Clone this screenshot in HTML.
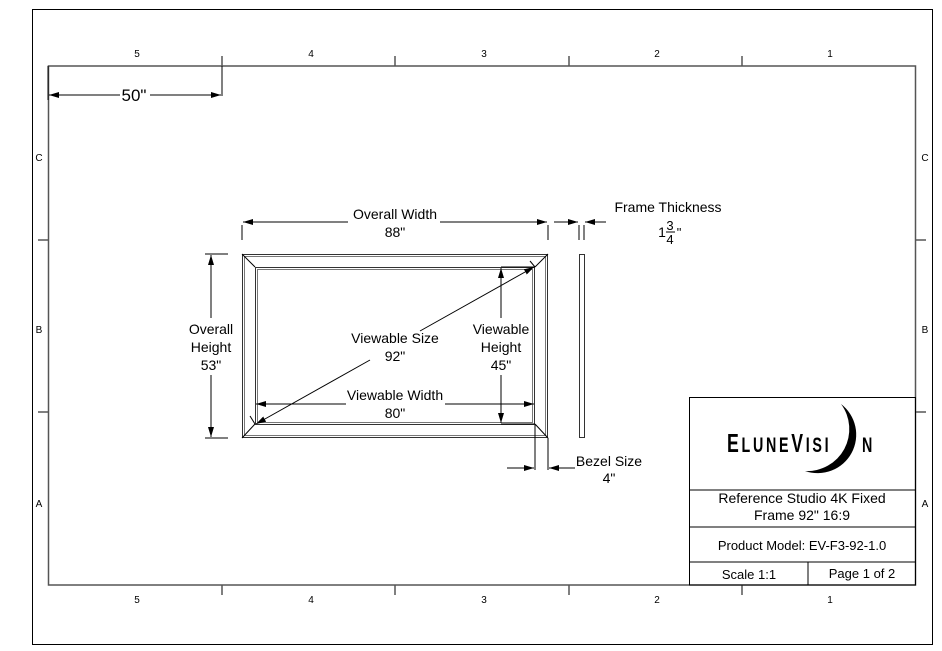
<!DOCTYPE html>
<html><head><style>
html,body{margin:0;padding:0;background:#fff;}
svg{display:block;font-family:"Liberation Sans",Arial,sans-serif;}
</style></head><body>
<svg width="942" height="651" viewBox="0 0 942 651" xmlns="http://www.w3.org/2000/svg">
<defs>
<marker id="a" viewBox="0 0 10 6" refX="10" refY="3" markerWidth="10" markerHeight="6" markerUnits="userSpaceOnUse" orient="auto"><path d="M0,0 L10,3 L0,6 Z" fill="#000"/></marker>
</defs>
<rect x="32.5" y="9.5" width="900" height="635" fill="none" stroke="#000" stroke-width="1"/>
<rect x="48.5" y="66" width="867" height="519" fill="none" stroke="#555" stroke-width="1.5"/>
<g stroke="#555" stroke-width="1.5">
<line x1="222" y1="56" x2="222" y2="66"/><line x1="395" y1="56" x2="395" y2="66"/><line x1="569" y1="56" x2="569" y2="66"/><line x1="742" y1="56" x2="742" y2="66"/>
<line x1="222" y1="585" x2="222" y2="595"/><line x1="395" y1="585" x2="395" y2="595"/><line x1="569" y1="585" x2="569" y2="595"/><line x1="742" y1="585" x2="742" y2="595"/>
<line x1="38" y1="240" x2="48" y2="240"/><line x1="38" y1="412" x2="48" y2="412"/>
<line x1="916" y1="240" x2="926" y2="240"/><line x1="916" y1="412" x2="926" y2="412"/>
</g>
<g font-size="10" text-anchor="middle" fill="#000">
<text x="137" y="57">5</text><text x="311" y="57">4</text><text x="484" y="57">3</text><text x="657" y="57">2</text><text x="830" y="57">1</text>
<text x="137" y="603">5</text><text x="311" y="603">4</text><text x="484" y="603">3</text><text x="657" y="603">2</text><text x="830" y="603">1</text>
<text x="39" y="161">C</text><text x="39" y="333">B</text><text x="39" y="507">A</text>
<text x="925" y="161">C</text><text x="925" y="333">B</text><text x="925" y="507">A</text>
</g>
<g stroke="#000" stroke-width="1" fill="none">
<line x1="48" y1="66" x2="48" y2="100"/><line x1="222" y1="66" x2="222" y2="96"/>
<line x1="120" y1="95" x2="49" y2="95" marker-end="url(#a)"/><line x1="150" y1="95" x2="221" y2="95" marker-end="url(#a)"/>
<rect x="242.5" y="254.5" width="305" height="183" stroke="#333"/>
<rect x="244.5" y="256.5" width="301" height="179" stroke="#777"/>
<rect x="255.5" y="267.5" width="279" height="157" stroke="#333"/>
<rect x="257.5" y="269.5" width="275" height="153" stroke="#777"/>
<line x1="242" y1="254" x2="255" y2="267"/><line x1="548" y1="254" x2="535" y2="267"/>
<line x1="242" y1="438" x2="255" y2="424"/><line x1="548" y1="438" x2="535" y2="424"/>
<line x1="242" y1="225" x2="242" y2="240"/><line x1="548" y1="225" x2="548" y2="240"/>
<line x1="348" y1="222" x2="243" y2="222" marker-end="url(#a)"/><line x1="440" y1="222" x2="547" y2="222" marker-end="url(#a)"/>
<rect x="579.5" y="254.5" width="5" height="183" stroke="#333"/>
<line x1="579" y1="225" x2="579" y2="240"/><line x1="584" y1="225" x2="584" y2="240"/>
<line x1="554" y1="222" x2="578" y2="222" marker-end="url(#a)"/><line x1="606" y1="222" x2="585" y2="222" marker-end="url(#a)"/>
<line x1="205" y1="254" x2="228" y2="254"/><line x1="205" y1="438" x2="228" y2="438"/>
<line x1="211" y1="318" x2="211" y2="255" marker-end="url(#a)"/><line x1="211" y1="375" x2="211" y2="437" marker-end="url(#a)"/>
<line x1="501" y1="267" x2="535" y2="267"/><line x1="501" y1="424" x2="535" y2="424"/>
<line x1="501" y1="318" x2="501" y2="268" marker-end="url(#a)"/><line x1="501" y1="375" x2="501" y2="423" marker-end="url(#a)"/>
<line x1="346" y1="404" x2="256" y2="404" marker-end="url(#a)"/><line x1="445" y1="404" x2="534" y2="404" marker-end="url(#a)"/>
<line x1="370" y1="360" x2="256" y2="424" marker-end="url(#a)"/><line x1="420" y1="331" x2="534" y2="267" marker-end="url(#a)"/>
<line x1="530" y1="261" x2="535" y2="267"/><line x1="250" y1="416" x2="255" y2="424"/>
<line x1="535" y1="425" x2="535" y2="470"/><line x1="548" y1="438" x2="548" y2="470"/>
<line x1="507" y1="468" x2="534" y2="468" marker-end="url(#a)"/><line x1="575" y1="468" x2="549" y2="468" marker-end="url(#a)"/>
<rect x="689.5" y="397.5" width="226" height="187.5" stroke="#000"/>
<line x1="689" y1="490" x2="916" y2="490"/><line x1="689" y1="527" x2="916" y2="527"/><line x1="689" y1="562" x2="916" y2="562"/>
<line x1="808" y1="562" x2="808" y2="585"/>
</g>
<g text-anchor="middle" fill="#000" font-size="14">
<text x="134" y="101" font-size="17">50"</text>
<text x="395" y="219">Overall Width</text><text x="395" y="237">88"</text>
<text x="668" y="212">Frame Thickness</text>
<text x="662" y="237">1</text><text x="670" y="230" font-size="13">3</text><line x1="666" y1="232" x2="675" y2="232" stroke="#000"/><text x="670" y="244" font-size="13">4</text><text x="679" y="237" font-size="13">"</text>
<text x="211" y="334">Overall</text><text x="211" y="352">Height</text><text x="211" y="370">53"</text>
<text x="501" y="334">Viewable</text><text x="501" y="352">Height</text><text x="501" y="370">45"</text>
<text x="395" y="343">Viewable Size</text><text x="395" y="361">92"</text>
<text x="395" y="400">Viewable Width</text><text x="395" y="418">80"</text>
<text x="609" y="466">Bezel Size</text><text x="609" y="483">4"</text>
<text x="802" y="503">Reference Studio 4K Fixed</text><text x="802" y="520">Frame 92" 16:9</text>
<text x="802" y="550" font-size="13">Product Model: EV-F3-92-1.0</text>
<text x="749" y="579" font-size="13">Scale 1:1</text>
<text x="862" y="578" font-size="13">Page 1 of 2</text>
</g>
<path d="M841,404 A38.5,38.5 0 0 1 805,471 A42,42 0 0 0 841,404 Z" fill="#000"/>
<text x="727" y="452" font-size="26" font-weight="bold" fill="#000" transform="translate(727 452) scale(0.68 1) translate(-727 -452)" letter-spacing="4">E<tspan font-size="21">LUNE</tspan>V<tspan font-size="21">ISI</tspan></text>
<text x="862" y="452" font-size="21" font-weight="bold" fill="#000" transform="translate(862 452) scale(0.68 1) translate(-862 -452)">N</text>
</svg>
</body></html>
